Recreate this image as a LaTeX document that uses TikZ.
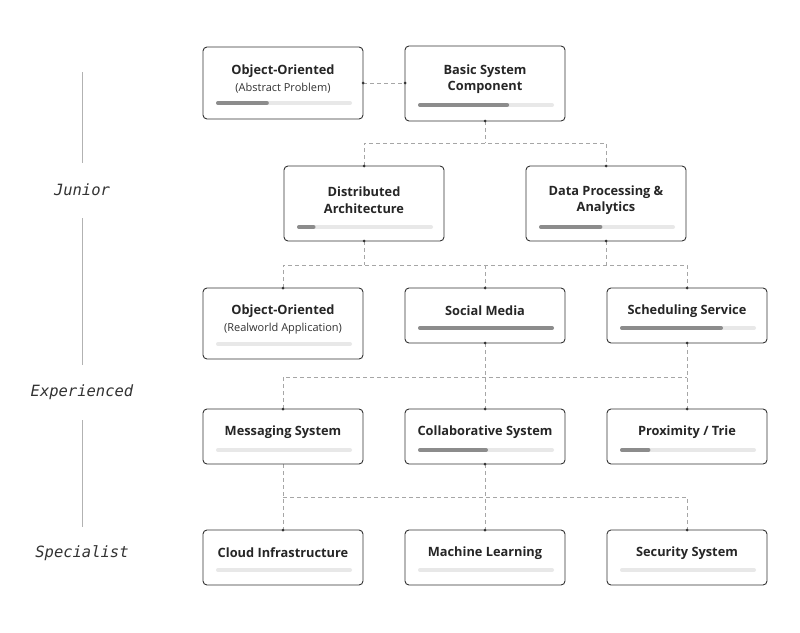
\documentclass[tikz,border=0pt]{standalone}
\usepackage{fontspec}
\setmainfont{Open Sans}
\newfontfamily\lvlfont{DejaVu Sans Mono}
\begin{document}
\begin{tikzpicture}[x=1pt,y=-1pt,
 con/.style={draw=black!35,dashed,dash pattern=on 4pt off 3pt,line width=0.7pt},
 dot/.style={circle,fill=black!80,inner sep=0pt,minimum size=3pt},
 lvl/.style={font=\lvlfont\itshape\fontsize{15.5}{18}\selectfont,text=black!80},
 ttl/.style={font=\fontsize{12.8}{15.5}\selectfont\bfseries,text=black!85,align=center},
 sub/.style={font=\fontsize{11}{13}\selectfont,text=black!80}]
\useasboundingbox (0,0) rectangle (800,632);
\fill[white] (0,0) rectangle (800,632);
\newcommand\mybox[6]{%
 \draw[black!80,line width=0.9pt,rounded corners=4pt,fill=white] (#2,#3) rectangle ++(160,#4-#3);
 \draw[black!9,line width=4pt,line cap=round] (#2+15,#6) -- (#2+147,#6);
 \ifdim #5pt>0pt \draw[black!45,line width=4pt,line cap=round] (#2+15,#6) -- (#2+15+132*#5,#6);\fi
}
\draw[black!30,line width=0.8pt] (82,72) -- (82,163) (82,218) -- (82,365) (82,420) -- (82,527);
\node[lvl] (jr) at (82,190) {Junior};
\node[lvl] (ex) at (82,392) {Experienced};
\node[lvl] (sp) at (82,553) {Specialist};
\draw[con] (363,83) -- (405,83);
\draw[con] (485,121) -- (485,143) (364,166) -- (364,143) -- (606,143) -- (606,166);
\draw[con] (364,241) -- (364,265) (606,241) -- (606,265) (283,288) -- (283,265) -- (687,265) -- (687,288) (485,265) -- (485,288);
\draw[con] (485,343) -- (485,409) (283,409) -- (283,377) -- (687,377) (687,343) -- (687,409);
\draw[con] (485,464) -- (485,530) (283,464) -- (283,530) (283,497) -- (687,497) -- (687,530);
\mybox{a}{203}{47}{119}{0.37}{103}
\mybox{b}{405}{46}{121}{0.66}{105}
\mybox{c}{284}{166}{241}{0.11}{227}
\mybox{d}{526}{166}{241}{0.45}{227}
\mybox{e}{203}{288}{359}{0}{344}
\mybox{f}{405}{288}{343}{1}{328}
\mybox{g}{607}{288}{343}{0.75}{328}
\mybox{h}{203}{409}{464}{0}{450}
\mybox{i}{405}{409}{464}{0.5}{450}
\mybox{j}{607}{409}{464}{0.2}{450}
\mybox{k}{203}{530}{585}{0}{570}
\mybox{l}{405}{530}{585}{0}{570}
\mybox{m}{607}{530}{585}{0}{570}
\foreach \p in {(363,83),(405,83),(485,121),(364,166),(606,166),(364,241),(606,241),(283,288),(485,288),(687,288),(485,343),(687,343),(283,409),(485,409),(687,409),(485,464),(283,530),(485,530),(687,530)} \node[dot] at \p {};
\node[ttl] (ta) at (283,71) {Object-Oriented};
\node[sub] (sa) at (283,88) {(Abstract Problem)};
\node[ttl] (tb) at (485,79) {Basic System\\[1pt]Component};
\node[ttl] (tc) at (364,200) {Distributed\\[1pt]Architecture};
\node[ttl] (td) at (606,200) {Data Processing \&\\[1pt]Analytics};
\node[ttl] (te) at (283,311) {Object-Oriented};
\node[sub] (se) at (283,329) {(Realworld Application)};
\node[ttl] (tf) at (485,311) {Social Media};
\node[ttl] (tg) at (687,311) {Scheduling Service};
\node[ttl] (th) at (283,432) {Messaging System};
\node[ttl] (ti) at (485,432) {Collaborative System};
\node[ttl] (tj) at (687,432) {Proximity / Trie};
\node[ttl] (tk) at (283,553) {Cloud Infrastructure};
\node[ttl] (tl) at (485,553) {Machine Learning};
\node[ttl] (tm) at (687,553) {Security System};
\end{tikzpicture}
\end{document}
